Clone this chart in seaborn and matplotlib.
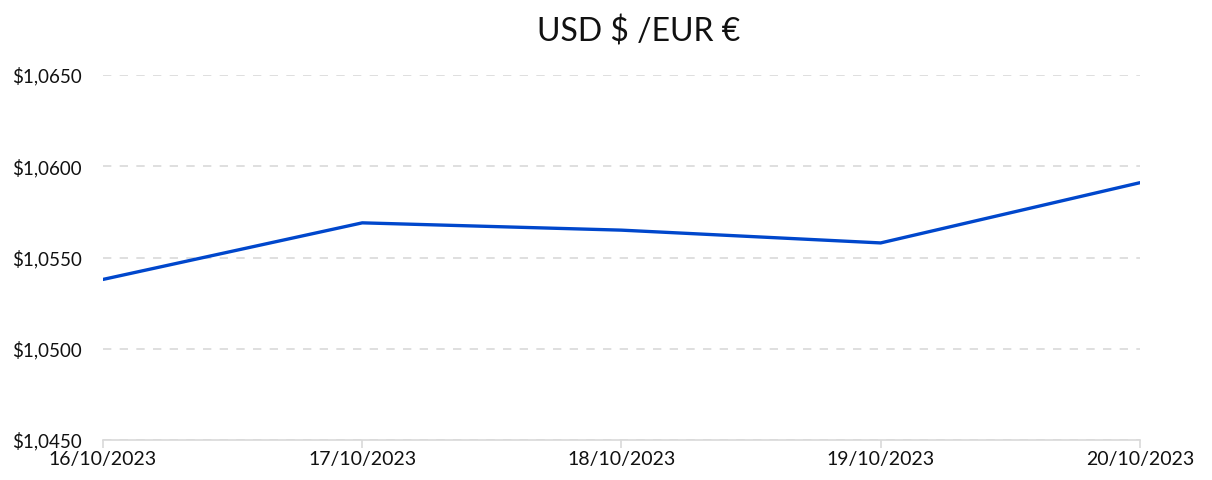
import matplotlib
matplotlib.use("Agg")
import matplotlib.pyplot as plt
import matplotlib.ticker as mticker
import seaborn as sns
import pandas as pd

# === Data ===
dates = ["16/10/2023", "17/10/2023", "18/10/2023", "19/10/2023", "20/10/2023"]
rates = [1.0538, 1.0569, 1.0565, 1.0558, 1.0591]
y_ticks = [1.0450, 1.0500, 1.0550, 1.0600, 1.0650]

df = pd.DataFrame({"date": dates, "rate": rates})
df["pos"] = range(len(dates))

# === Style ===
sns.set_style("white")
plt.rcParams["font.family"] = ["Lato", "DejaVu Sans"]
plt.rcParams["text.color"] = "#111111"
plt.rcParams["xtick.color"] = "#d9d9d9"
plt.rcParams["xtick.labelcolor"] = "#111111"
plt.rcParams["ytick.labelcolor"] = "#111111"

fig = plt.figure(figsize=(12.12, 4.8), dpi=100)
ax = fig.add_axes([0.085, 0.0833, 0.8555, 0.7604])

sns.lineplot(data=df, x="pos", y="rate", color="#0047CC", linewidth=2.4, ax=ax)

ax.set_xlim(0, len(dates) - 1)
ax.set_ylim(y_ticks[0], y_ticks[-1])
ax.set_xticks(df["pos"])
ax.set_xticklabels(dates, fontsize=14)
ax.set_yticks(y_ticks)
ax.yaxis.set_major_formatter(
    mticker.FuncFormatter(lambda v, _: "$" + f"{v:.4f}".replace(".", ","))
)
ax.tick_params(axis="y", labelsize=13.5, length=0, pad=15)
ax.tick_params(axis="x", bottom=True, length=6, width=1.2, pad=2, direction="out")

ax.grid(axis="y", linestyle=(0, (5, 5)), color="#d9d9d9", linewidth=1.2)
ax.set_axisbelow(True)
for side in ["top", "right", "left"]:
    ax.spines[side].set_visible(False)
ax.spines["bottom"].set_color("#d9d9d9")
ax.spines["bottom"].set_linewidth(1.2)

ax.set_xlabel("")
ax.set_ylabel("")
fig.suptitle("USD $ /EUR €", fontsize=23, y=0.965, x=0.527)

fig.savefig("out.png", dpi=100)
